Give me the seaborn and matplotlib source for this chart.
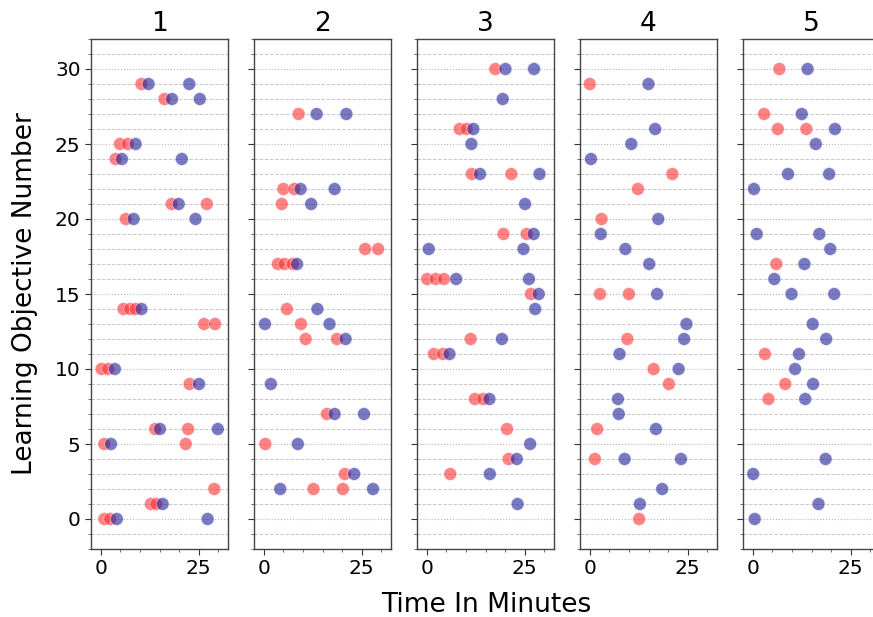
import matplotlib
matplotlib.use("Agg")
import matplotlib.pyplot as plt
import seaborn as sns
import pandas as pd
from matplotlib.ticker import MultipleLocator, FixedLocator

sns.set_style("white")
plt.rcParams['font.family'] = ['DejaVu Sans']
plt.rcParams['text.color'] = 'black'
plt.rcParams['xtick.color'] = 'black'
plt.rcParams['ytick.color'] = 'black'
plt.rcParams['axes.labelcolor'] = 'black'

panels = ["1", "2", "3", "4", "5"]

red_obj = [
    [29, 28, 25, 25, 24, 21, 21, 20, 14, 14, 14, 13, 13, 10, 10, 9, 6, 6, 5, 5, 2, 1, 1, 0, 0],
    [27, 22, 22, 21, 18, 18, 17, 17, 17, 14, 13, 12, 12, 7, 5, 3, 2, 2],
    [30, 26, 26, 23, 23, 19, 19, 16, 16, 16, 15, 12, 11, 11, 8, 8, 6, 4, 3],
    [29, 23, 22, 20, 15, 15, 12, 10, 9, 6, 4, 0],
    [30, 27, 26, 26, 17, 11, 9, 8],
]
red_time = [
    [10.4, 16.3, 4.9, 6.9, 3.8, 18.1, 27.1, 6.4, 5.8, 7.5, 8.9, 26.4, 29.2, 0.2, 1.9, 22.7, 13.9, 22.3, 0.9, 21.7, 29.0, 12.8, 14.2, 0.9, 2.4],
    [8.9, 5.0, 7.8, 4.6, 25.9, 29.2, 3.6, 5.3, 7.4, 5.9, 9.5, 10.7, 18.7, 16.1, 0.4, 20.7, 12.7, 20.2],
    [17.5, 8.4, 10.2, 11.5, 21.6, 19.6, 25.5, 0.1, 2.3, 4.4, 26.6, 11.2, 1.8, 4.1, 12.3, 14.4, 20.5, 20.9, 6.0],
    [0.0, 21.1, 12.3, 3.0, 2.6, 10.0, 9.6, 16.3, 20.2, 1.9, 1.3, 12.6],
    [6.8, 2.9, 6.4, 13.7, 6.0, 3.1, 8.3, 4.0],
]
blue_obj = [
    [29, 29, 28, 28, 25, 24, 24, 21, 20, 20, 14, 10, 9, 6, 6, 5, 1, 0, 0],
    [27, 27, 22, 22, 21, 17, 14, 13, 13, 12, 9, 7, 7, 5, 3, 2, 2],
    [30, 30, 28, 26, 25, 23, 23, 21, 19, 18, 18, 16, 16, 15, 14, 12, 11, 8, 5, 4, 3, 1],
    [29, 26, 25, 24, 20, 19, 18, 17, 15, 13, 12, 11, 10, 8, 7, 6, 4, 4, 2, 1],
    [30, 27, 26, 25, 23, 23, 22, 19, 19, 18, 17, 16, 15, 15, 13, 12, 11, 10, 9, 8, 4, 3, 1, 0],
]
blue_time = [
    [12.2, 22.6, 18.2, 25.3, 8.9, 5.4, 20.7, 19.9, 8.4, 24.2, 10.4, 3.6, 25.1, 15.1, 29.9, 2.6, 15.8, 4.1, 27.3],
    [13.5, 21.1, 9.4, 18.1, 12.1, 8.5, 13.7, 0.3, 16.8, 20.9, 1.8, 18.1, 25.6, 8.7, 23.1, 4.2, 27.9],
    [20.1, 27.4, 19.4, 11.9, 11.4, 13.6, 28.8, 25.1, 27.3, 0.5, 24.7, 7.5, 26.1, 28.6, 27.7, 19.2, 5.8, 16.0, 26.4, 23.0, 16.1, 23.2],
    [15.0, 16.7, 10.6, 0.3, 17.5, 2.8, 9.1, 15.2, 17.2, 24.7, 24.1, 7.6, 22.7, 7.2, 7.4, 16.9, 8.9, 23.3, 18.5, 12.8],
    [14.0, 12.5, 21.0, 16.1, 9.0, 19.5, 0.3, 1.0, 17.0, 19.8, 13.2, 5.5, 9.9, 20.8, 15.3, 18.75, 11.8, 10.8, 15.4, 13.4, 18.6, 0.1, 16.8, 0.5],
]

rows = []
for i, p in enumerate(panels):
    for t, o in zip(red_time[i], red_obj[i]):
        rows.append((p, "red", t, o))
    for t, o in zip(blue_time[i], blue_obj[i]):
        rows.append((p, "blue", t, o))
df = pd.DataFrame(rows, columns=["panel", "group", "time", "objective"])

W, H = 873, 617
fig = plt.figure(figsize=(W / 100, H / 100), dpi=100)
left0, step, aw = 91, 163, 137
top, bottom = 39, 549
palette = {"red": "#ff3030", "blue": "#20209a"}

for i, p in enumerate(panels):
    l = left0 + step * i
    ax = fig.add_axes([l / W, 1 - bottom / H, aw / W, (bottom - top) / H])
    sub = df[df["panel"] == p]
    sns.scatterplot(data=sub, x="time", y="objective", hue="group", palette=palette,
                    hue_order=["red", "blue"], s=85, alpha=0.6, edgecolor="#f4f4ff",
                    linewidth=0.5, legend=False, ax=ax, zorder=3)
    ax.set_xlim(-2.5, 32.5)
    ax.set_ylim(-2, 32)
    ax.xaxis.set_major_locator(FixedLocator([0, 25]))
    ax.xaxis.set_minor_locator(FixedLocator([5, 10, 15, 20, 30]))
    ax.yaxis.set_major_locator(MultipleLocator(5))
    ax.yaxis.set_minor_locator(MultipleLocator(1))
    ax.grid(True, axis="y", which="major", linestyle=":", color="#b8b8b8", linewidth=0.8, zorder=0)
    ax.grid(True, axis="y", which="minor", linestyle="--", color="#c8c8c8", linewidth=0.7, zorder=0)
    ax.set_axisbelow(True)
    ax.tick_params(axis="both", which="major", direction="out", length=4, width=0.8,
                   labelsize=14.5, color="#333333", labelcolor="black", left=True, bottom=True)
    ax.tick_params(axis="both", which="minor", direction="out", length=2, width=0.6,
                   color="#555555", left=True, bottom=True)
    for s in ax.spines.values():
        s.set_color("#444444")
        s.set_linewidth(1.0)
    ax.set_title(p, fontsize=19, pad=6, color="black")
    ax.set_xlabel("")
    ax.set_ylabel("")
    if i > 0:
        ax.tick_params(axis="y", which="both", labelleft=False)

fig.text(25 / W, 1 - 294 / H, "Learning Objective Number", rotation=90,
         ha="center", va="center", fontsize=19, color="black")
fig.text(486 / W, 1 - 605 / H, "Time In Minutes", ha="center", va="center",
         fontsize=19, color="black")

fig.savefig("out.png", dpi=100)
